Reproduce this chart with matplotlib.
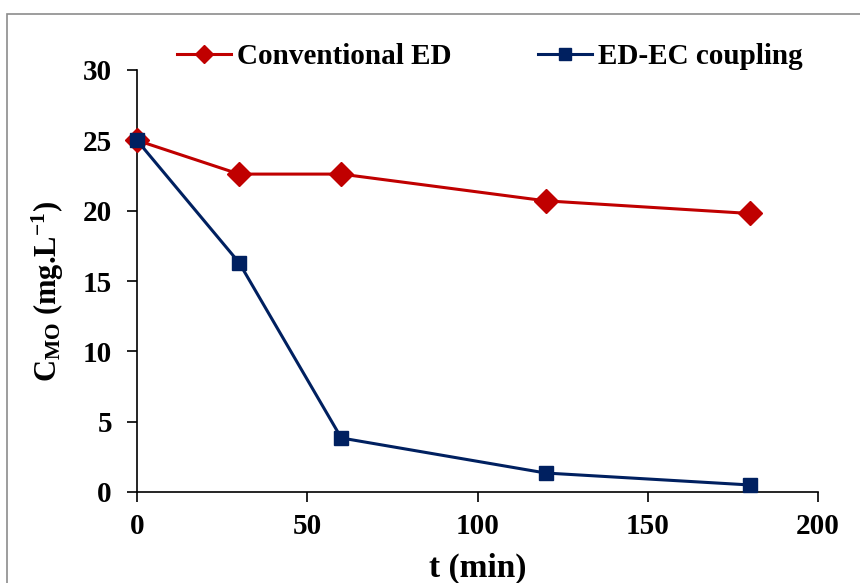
import matplotlib.pyplot as plt
import matplotlib.patches as mpatches

# Konzentration Methylorange über die Zeit
t_min = [0, 30, 60, 120, 180]
c_conventional = [25.0, 22.6, 22.6, 20.7, 19.8]
c_coupling = [25.0, 16.3, 3.84, 1.35, 0.5]

x_ticks = [0, 50, 100, 150, 200]
y_ticks = [0, 5, 10, 15, 20, 25, 30]

plt.rcParams['font.family'] = ['Liberation Serif', 'DejaVu Serif']
plt.rcParams['font.weight'] = 'bold'
plt.rcParams['mathtext.fontset'] = 'custom'
plt.rcParams['mathtext.rm'] = 'Liberation Serif:bold'
plt.rcParams['mathtext.it'] = 'Liberation Serif:bold'
plt.rcParams['mathtext.bf'] = 'Liberation Serif:bold'
plt.rcParams['mathtext.default'] = 'rm'

W, H = 860, 583
fig = plt.figure(figsize=(W / 100, H / 100), dpi=100)
ax = fig.add_axes([137 / W, 91 / H, 681 / W, 422 / H])

# grauer Rahmen um die Grafik
fig.patches.append(mpatches.Rectangle((7 / W, -0.1), 2.0, 1 - 14 / H + 0.1,
                                      transform=fig.transFigure, fill=False,
                                      edgecolor='#8c8c8c', linewidth=1.2))

line_conv, = ax.plot(t_min, c_conventional, color='#c00000', linewidth=2.2, marker='D',
                     markersize=12.5, label='Conventional ED', zorder=3, clip_on=False)
line_coup, = ax.plot(t_min, c_coupling, color='#002060', linewidth=2.2, marker='s',
                     markersize=10.5, label='ED-EC coupling', zorder=4, clip_on=False)

ax.set_xlim(0, 200)
ax.set_ylim(0, 30)
ax.set_xticks(x_ticks)
ax.set_yticks(y_ticks)
ax.tick_params(axis='both', direction='out', length=7, width=1.2, labelsize=21)
ax.tick_params(axis='x', pad=8)
ax.tick_params(axis='y', pad=11)
for lbl in ax.get_xticklabels() + ax.get_yticklabels():
    lbl.set_fontweight('bold')

for side in ['top', 'right']:
    ax.spines[side].set_visible(False)
for side in ['left', 'bottom']:
    ax.spines[side].set_linewidth(1.2)

ax.set_xlabel('t (min)', fontsize=24, fontweight='bold', va='top')
ax.xaxis.set_label_coords(0.5, -0.145)
ax.set_ylabel(r'C$_{\mathrm{MO}}$ (mg.L$^{-1}$)', fontsize=22, fontweight='bold')
ax.yaxis.set_label_coords(-0.104, 0.476)

# zwei einzelne Legenden oberhalb des Diagramms
leg_kw = dict(loc='center left', frameon=False, borderpad=0, borderaxespad=0,
              handlelength=1.85, handletextpad=0.2,
              prop={'family': 'Liberation Serif', 'weight': 'bold', 'size': 21})
leg1 = fig.legend(handles=[line_conv], bbox_to_anchor=(177 / W, 1 - 57 / H),
                  markerscale=0.7, **leg_kw)
leg2 = fig.legend(handles=[line_coup], bbox_to_anchor=(538 / W, 1 - 57 / H),
                  markerscale=0.85, **leg_kw)

fig.savefig('out.png', dpi=100)
